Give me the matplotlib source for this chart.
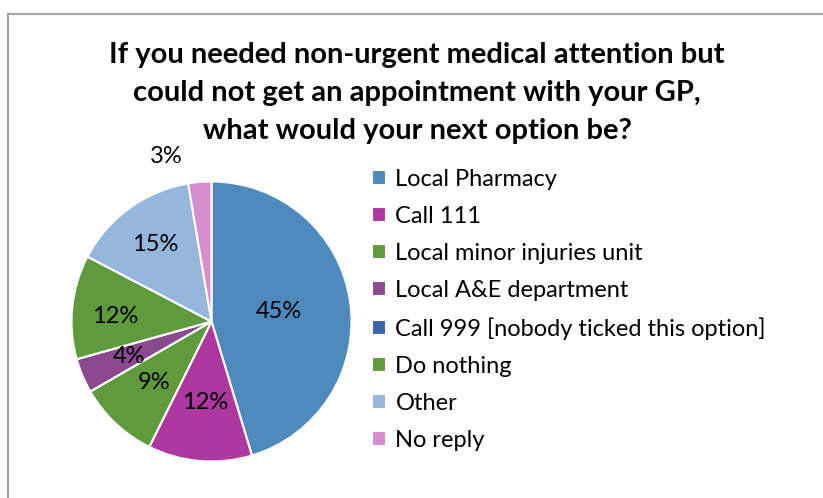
import matplotlib
matplotlib.use('Agg')
import matplotlib.pyplot as plt
from matplotlib.patches import Rectangle
import numpy as np

plt.rcParams['font.family'] = ['Lato', 'DejaVu Sans']

categories = ['Local Pharmacy', 'Call 111', 'Local minor injuries unit',
              'Local A&E department', 'Call 999 [nobody ticked this option]',
              'Do nothing', 'Other', 'No reply']
counts = [34, 9, 7, 3, 0, 9, 11, 2]
colors = ['#4F8ABE', '#AE38A0', '#5F9A3C', '#8B4A90', '#3C64AA',
          '#5F9A3C', '#95B7DD', '#D58DCB']
# per-slice label distance (fraction of radius), Excel "best fit" style
label_dist = [0.49, 0.58, 0.60, 0.64, 0.6, 0.69, 0.68, 1.22]
label_shift = [0, 0, 0, 0, 0, 3, 0, 10.5]  # degrees

W, H = 823, 498
fig = plt.figure(figsize=(W / 100, H / 100), dpi=100)

# chart frame
fig.patches.append(Rectangle((8 / W, -0.1), 1.2, (H - 14) / H + 0.1,
                             transform=fig.transFigure, fill=False,
                             edgecolor='#A6A6A6', linewidth=1.6))

cx, cy, r = 211.5, 321.5, 140
ax = fig.add_axes([(cx - r) / W, (H - cy - r) / H, 2 * r / W, 2 * r / H])
wedges, _ = ax.pie(counts, colors=colors, startangle=90, counterclock=False,
                   radius=1, wedgeprops=dict(edgecolor='white', linewidth=1.5))
ax.set_xlim(-1, 1)
ax.set_ylim(-1, 1)
ax.set_aspect('equal')
ax.axis('off')

total = sum(counts)
start = 90.0
for i, c in enumerate(counts):
    span = 360.0 * c / total
    mid = np.radians(start - span / 2 + label_shift[i])
    start -= span
    if c == 0:
        continue
    pct = '%d%%' % round(100.0 * c / total)
    ax.text(label_dist[i] * np.cos(mid), label_dist[i] * np.sin(mid), pct,
            ha='center', va='center', fontsize=17, color='black',
            clip_on=False)

fig.text(417 / W, 1 - 93 / H,
         'If you needed non-urgent medical attention but\n'
         'could not get an appointment with your GP,\n'
         'what would your next option be?',
         ha='center', va='center', fontsize=21, fontweight='bold',
         linespacing=1.58)

fig.legend(wedges, categories, loc='upper left',
           bbox_to_anchor=(360 / W, 1 - 157 / H), frameon=False,
           fontsize=17, handlelength=0.6, handleheight=0.6,
           handletextpad=0.4, labelspacing=0.68, borderpad=0)

fig.savefig('out.png', dpi=100)
